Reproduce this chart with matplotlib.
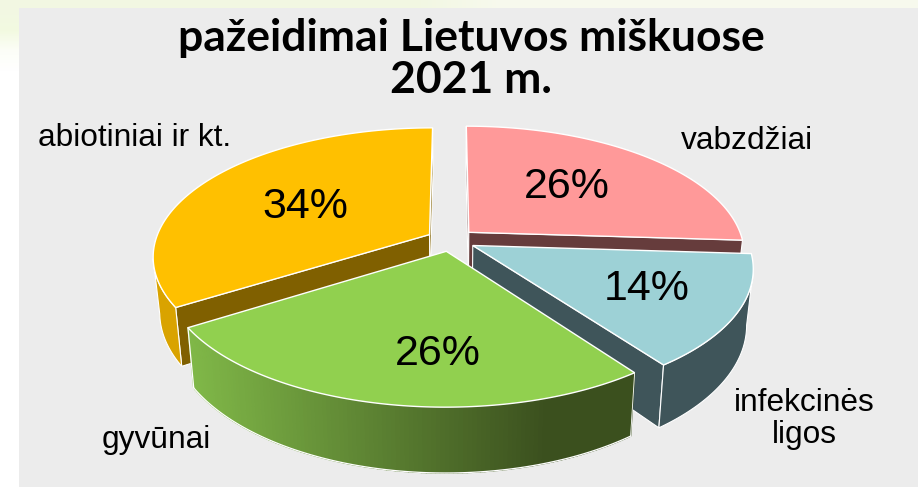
import numpy as np
import matplotlib
matplotlib.use("Agg")
import matplotlib.pyplot as plt
from matplotlib.colors import to_rgb
from matplotlib.patches import Polygon, Rectangle

title = "pažeidimai Lietuvos miškuose\n2021 m."
categories = ["vabzdžiai", "infekcinės\nligos", "gyvūnai", "abiotiniai ir kt."]
values = [26, 14, 26, 34]
top_colors = ["#ff9999", "#9dd1d6", "#91d04f", "#ffc000"]
wall_colors = ["#7f4c4c", "#3f555a", "#6f9e3f", "#d9a300"]
face_colors = ["#663c3c", "#3f555a", "#4b6628", "#806000"]
draw_order = [0, 3, 1, 2]

label_xy = [(747, 141), (804, 419), (156, 440), (135, 138)]
pct_xy = [(567, 187), (647, 289), (438, 354), (305, 207)]

# perspektyva
CX, CY = 451, 240
RX, RY = 274, 126
K = 0.165
EXPLODE = 0.09
DEPTH = 54
LEAN = 0.022


def project(x, y, z=0.0):
    w = 1 + K * y
    sx = CX + RX * x / w * (1 - LEAN * z)
    sy = CY - RY * y / w + DEPTH * z / w
    return sx, sy


fig = plt.figure(figsize=(9.18, 4.87), dpi=100)
ax = fig.add_axes([0, 0, 1, 1])
ax.axis("off")

# fonas
bg = np.ones((24, 12, 3))
bg[0, :] = [0.95, 0.97, 0.89]
bg[0, 6:] = [0.97, 0.98, 0.93]
bg[1, 0] = [0.95, 0.98, 0.88]
bg[2, 0] = [0.99, 0.995, 0.97]
ax.imshow(bg, extent=[0, 918, 487, 0], aspect="auto", interpolation="bilinear", zorder=0)
ax.set_xlim(0, 918)
ax.set_ylim(487, 0)
ax.add_patch(Rectangle((19, 8), 899, 479, fc="#ececec", ec="none", zorder=1))

cum = 90.0
z = 2
bounds = []
for v in values:
    span = v / sum(values) * 360
    bounds.append((cum, cum - span))
    cum -= span

for i in draw_order:
    a0, a1 = np.radians(bounds[i])
    mid = (a0 + a1) / 2
    ex, ey = EXPLODE * np.cos(mid), EXPLODE * np.sin(mid)
    t = np.linspace(a0, a1, 120)
    xs, ys = ex + np.cos(t), ey + np.sin(t)

    apex = np.array(project(ex, ey))
    apex_low = np.array(project(ex, ey, 1))
    upp = np.array([project(a, b) for a, b in zip(xs, ys)])
    low = np.array([project(a, b, 1) for a, b in zip(xs, ys)])
    inner = np.array(project(ex + 0.5 * np.cos(mid), ey + 0.5 * np.sin(mid)))

    # pjuvio sieneles, tik matomos
    for p_top, p_low in [(upp[0], low[0]), (upp[-1], low[-1])]:
        d = p_top - apex
        if d[0] < 0:
            d = -d
        normal = np.array([d[1], -d[0]])
        if np.dot(normal, inner - apex) > 0:
            ax.add_patch(Polygon([apex, p_top, p_low, apex_low], fc=face_colors[i],
                                 ec="white", lw=0.8, zorder=z))
    z += 1

    # isorine sienele, tik priekine dalis
    front = np.gradient(upp[:, 0]) < 0
    if front.any():
        fu, fl = upp[front], low[front]
        if categories[i] == "gyvūnai":
            c0 = np.array(to_rgb("#80b848"))
            c1 = np.array(to_rgb("#3b501e"))
            xmin, xmax = fu[:, 0].min(), fu[:, 0].max()
            for j in range(len(fu) - 1):
                frac = ((fu[j, 0] + fu[j + 1, 0]) / 2 - xmin) / (xmax - xmin)
                col = c0 + (c1 - c0) * min(frac * 1.25, 1)
                ax.add_patch(Polygon([fu[j], fu[j + 1], fl[j + 1], fl[j]], fc=col, ec=col, lw=1.0, zorder=z))
            ax.plot(fl[:, 0], fl[:, 1], color="white", lw=0.9, zorder=z + 0.1)
            ax.plot([fu[0, 0], fl[0, 0]], [fu[0, 1], fl[0, 1]], color="white", lw=0.6, zorder=z + 0.1)
            ax.plot([fu[-1, 0], fl[-1, 0]], [fu[-1, 1], fl[-1, 1]], color="white", lw=0.9, zorder=z + 0.1)
        else:
            ax.add_patch(Polygon(np.vstack([fu, fl[::-1]]), fc=wall_colors[i], ec="white", lw=0.8, zorder=z))
    z += 1

    ax.add_patch(Polygon(np.vstack([apex, upp]), fc=top_colors[i], ec="white", lw=1.0,
                         joinstyle="miter", zorder=z))
    z += 1

for i, (lx, ly) in enumerate(label_xy):
    ax.text(lx, ly, categories[i], ha="center", va="center", fontsize=22.8,
            family="Liberation Sans", color="black", linespacing=1.1, zorder=50)
for i, (px, py) in enumerate(pct_xy):
    ax.text(px, py, f"{values[i]}%", ha="center", va="center", fontsize=31,
            family="Liberation Sans", color="black", zorder=50)

ax.text(471, 59, title, ha="center", va="center", fontsize=32, fontweight="bold",
        family="Lato", color="black", linespacing=1.08, zorder=50)

fig.savefig("out.png", dpi=100)
